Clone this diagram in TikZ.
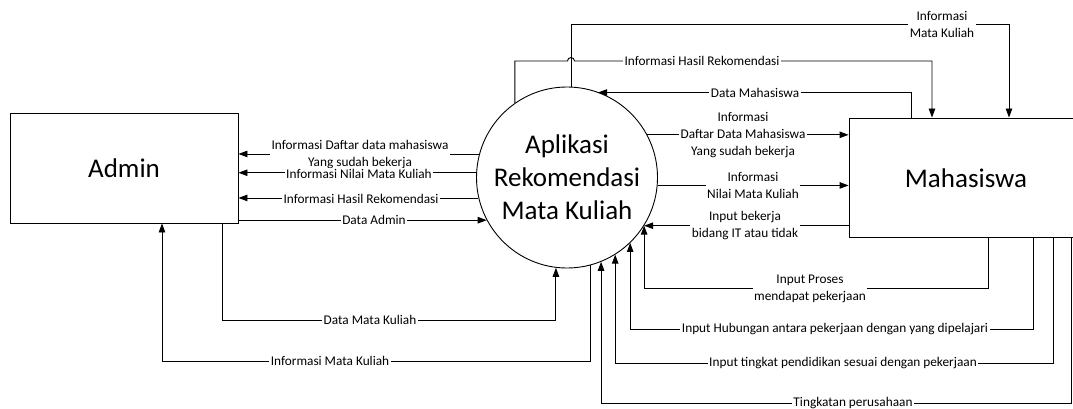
\documentclass[tikz,border=0pt]{standalone}
\usepackage{fontspec}
\setmainfont{Carlito}
\usetikzlibrary{arrows.meta}

\begin{document}
\begin{tikzpicture}[x=1pt, y=-1pt, line width=0.9pt,
    flow/.style = {-{Triangle[length=9pt,width=6.5pt]}},
    lbl/.style = {fill=white, inner sep=1.5pt, align=center,
      font=\fontsize{13.3}{17}\selectfont},
    entity/.style = {draw, line width=0.9pt, rectangle, inner sep=0pt,
      font=\fontsize{27}{33}\selectfont},
    proc/.style = {draw, circle, inner sep=0pt, minimum size=181pt,
      align=center, font=\fontsize{27}{33}\selectfont}]
  \clip (0,0) rectangle (1073,409);

  \node[entity, minimum width=228pt, minimum height=110pt] (admin) at (124,168) {\raisebox{-4pt}{Admin}};
  \node[proc] (app) at (567,177.5) {Aplikasi\\Rekomendasi\\Mata Kuliah};
  \node[entity, minimum width=234pt, minimum height=119.5pt] (mhs) at (966,177.75) {Mahasiswa};

  \draw[flow] (app.165) -- (app.165 -| admin.east);
  \node[lbl] (lDaftarA) at (360,155) {Informasi Daftar data mahasiswa\\Yang sudah bekerja};
  \draw[flow] (app.177.8) -- (app.177.8 -| admin.east);
  \node[lbl] (lNilaiA) at (359,174) {Informasi Nilai Mata Kuliah};
  \draw[flow] (app.193.7) -- (app.193.7 -| admin.east);
  \node[lbl] (lHasilA) at (361,199) {Informasi Hasil Rekomendasi};
  \draw[flow] (admin.east |- app.208) -- (app.208);
  \node[lbl] (lAdmin) at (374,220) {Data Admin};

  \coordinate (dmk) at (222,320);
  \draw[flow] (admin.south -| dmk) -- (dmk) -| (app.263.7);
  \node[lbl] (lDMK) at (370,320) {Data Mata Kuliah};
  \coordinate (imk) at (162,361);
  \draw[flow] (app.285.4) |- (imk) -- (admin.south -| imk);
  \node[lbl] (lIMK) at (330,361) {Informasi Mata Kuliah};

  \coordinate (hasil) at (932,61);
  \draw[flow] (app.125.8) |- (567.5,61) arc (180:360:3.5) -- (hasil) -- (mhs.north -| hasil);
  \node[lbl] (lHasilM) at (702,61) {Informasi Hasil Rekomendasi};
  \coordinate (imkTop) at (1009,24.5);
  \draw[flow] (app.87.5) |- (imkTop) -- (mhs.north -| imkTop);
  \node[lbl] (lIMKTop) at (942,24.5) {Informasi\\Mata Kuliah};
  \coordinate (dmhs) at (911,92.5);
  \draw[flow] (mhs.north -| dmhs) -- (dmhs) -- (app.70.3 |- dmhs);
  \node[lbl] (lDMhs) at (755,92.5) {Data Mahasiswa};

  \draw[flow] (app.28) -- (app.28 -| mhs.west);
  \node[lbl] (lDaftarM) at (743,135.5) {Informasi\\Daftar Data Mahasiswa\\Yang sudah bekerja};
  \draw[flow] (app.355.7) -- (app.355.7 -| mhs.west);
  \node[lbl] (lNilaiM) at (753,185) {Informasi\\Nilai Mata Kuliah};
  \draw[flow] (mhs.west |- app.328.3) -- (app.328.3);
  \node[lbl] (lBekerja) at (745,226) {Input bekerja\\bidang IT atau tidak};

  \coordinate (proses) at (988,288);
  \draw[flow] (mhs.south -| proses) -- (proses) -| (app.328.3);
  \node[lbl] (lProses) at (810,288.5) {Input Proses\\mendapat pekerjaan};
  \coordinate (hub) at (1033,329);
  \draw[flow] (mhs.south -| hub) -- (hub) -| (app.314.1);
  \node[lbl] (lHub) at (835,329) {Input Hubungan antara pekerjaan dengan yang dipelajari};
  \coordinate (didik) at (1053,363);
  \draw[flow] (mhs.south -| didik) -- (didik) -| (app.302);
  \node[lbl] (lDidik) at (843,363) {Input tingkat pendidikan sesuai dengan pekerjaan};
  \coordinate (tingkat) at (1071,403);
  \draw[flow] (mhs.south -| tingkat) -- (tingkat) -| (app.292.8);
  \node[lbl] (lTingkat) at (853,403) {Tingkatan perusahaan};
\end{tikzpicture}
\end{document}
